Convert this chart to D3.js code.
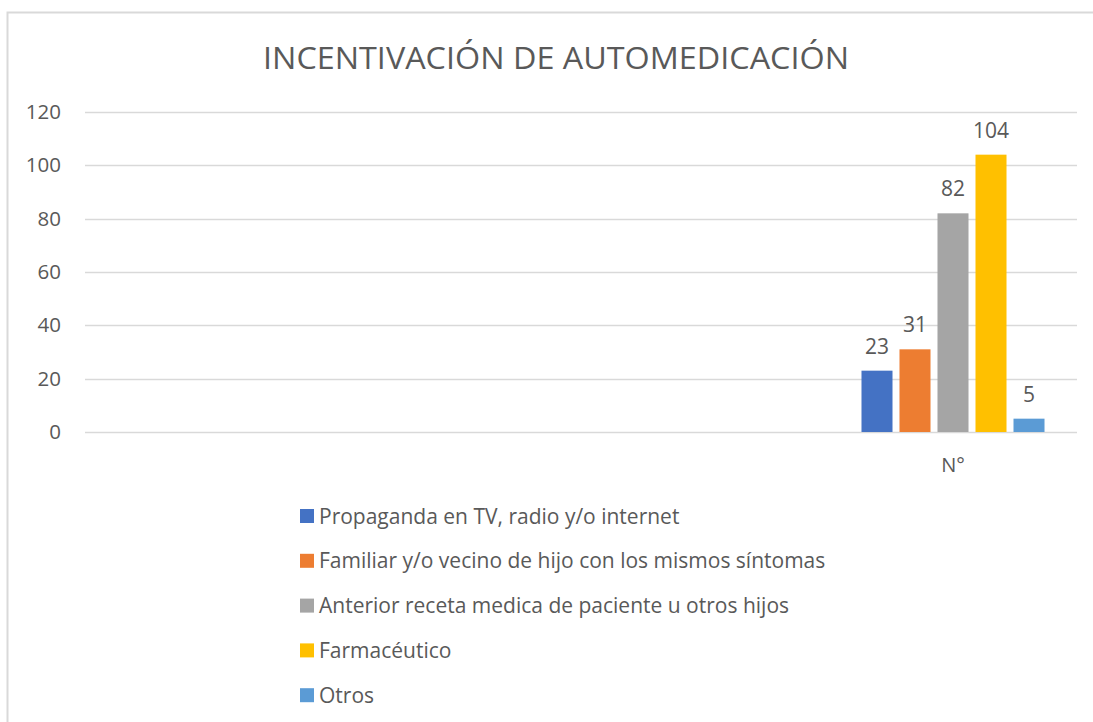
<!DOCTYPE html>
<html lang="es">
<head>
<meta charset="utf-8">
<title>Incentivación de automedicación</title>
<script src="https://cdn.jsdelivr.net/npm/d3@7"></script>
<style>
  body { margin: 0; background: #fff; }
  text { font-family: "Open Sans", "Noto Sans", sans-serif; fill: #595959; }
</style>
</head>
<body>
<script>
// data
var categories = ["", "", "", "N°"];
var series = ["Propaganda en TV, radio y/o internet",
              "Familiar y/o vecino de hijo con los mismos síntomas",
              "Anterior receta medica de paciente u otros hijos",
              "Farmacéutico",
              "Otros"];
var values = [23, 31, 82, 104, 5];
var colors = ["#4472c4", "#ed7d31", "#a5a5a5", "#ffc000", "#5b9bd5"];
var yTicks = [0, 20, 40, 60, 80, 100, 120];

var w = 1093, h = 722;
var margin = {left: 85, right: 16, top: 112, bottom: 290};

var svg = d3.select("body").append("svg")
  .attr("width", w).attr("height", h);

// frame
svg.append("path")
  .attr("d", "M7.5," + h + "V12.5H" + w)
  .attr("fill", "none").attr("stroke", "#d9d9d9").attr("stroke-width", 2);

svg.append("text")
  .attr("x", 556).attr("y", 69)
  .attr("text-anchor", "middle")
  .attr("font-size", 31)
  .attr("textLength", 586).attr("lengthAdjust", "spacingAndGlyphs")
  .text("INCENTIVACIÓN DE AUTOMEDICACIÓN");

var x = d3.scaleBand().domain(d3.range(categories.length))
  .range([margin.left, w - margin.right]).padding(0);
var xs = d3.scaleBand().domain(series)
  .range([0, x.bandwidth()]).paddingInner(0.184).paddingOuter(0.855);
var y = d3.scaleLinear().domain([0, 120]).range([h - margin.bottom, margin.top]);

// gridlines
svg.append("g").selectAll("line").data(yTicks).enter().append("line")
  .attr("x1", margin.left).attr("x2", w - margin.right)
  .attr("y1", function(d) { return Math.round(y(d)) + 0.5; })
  .attr("y2", function(d) { return Math.round(y(d)) + 0.5; })
  .attr("stroke", "#d9d9d9").attr("stroke-width", 1.3);

svg.append("g").selectAll("text").data(yTicks).enter().append("text")
  .attr("x", 61).attr("y", function(d) { return y(d) + 7; })
  .attr("text-anchor", "end").attr("font-size", 20.5)
  .text(function(d) { return d; });

// category labels
svg.append("g").selectAll("text").data(categories).enter().append("text")
  .attr("x", function(d, i) { return x(i) + x.bandwidth() / 2; })
  .attr("y", 472).attr("text-anchor", "middle").attr("font-size", 20)
  .text(function(d) { return d; });

// bars
var last = categories.length - 1;
var g = svg.append("g").attr("transform", "translate(" + x(last) + ",0)");
g.selectAll("rect").data(values).enter().append("rect")
  .attr("x", function(d, i) { return xs(series[i]); })
  .attr("width", xs.bandwidth())
  .attr("y", function(d) { return y(d); })
  .attr("height", function(d) { return y(0) - y(d); })
  .attr("fill", function(d, i) { return colors[i]; });

g.selectAll("text").data(values).enter().append("text")
  .attr("x", function(d, i) { return xs(series[i]) + xs.bandwidth() / 2; })
  .attr("y", function(d) { return y(d) - 17; })
  .attr("text-anchor", "middle").attr("font-size", 21)
  .text(function(d) { return d; });

// legend
var leg = svg.append("g").selectAll("g").data(series).enter().append("g")
  .attr("transform", function(d, i) { return "translate(300," + (516 + i * 44.8) + ")"; });
leg.append("rect").attr("x", 0).attr("y", -7).attr("width", 14).attr("height", 14)
  .attr("fill", function(d, i) { return colors[i]; });
leg.append("text").attr("x", 19).attr("y", 7.5).attr("font-size", 21)
  .text(function(d) { return d; });
</script>
</body>
</html>
